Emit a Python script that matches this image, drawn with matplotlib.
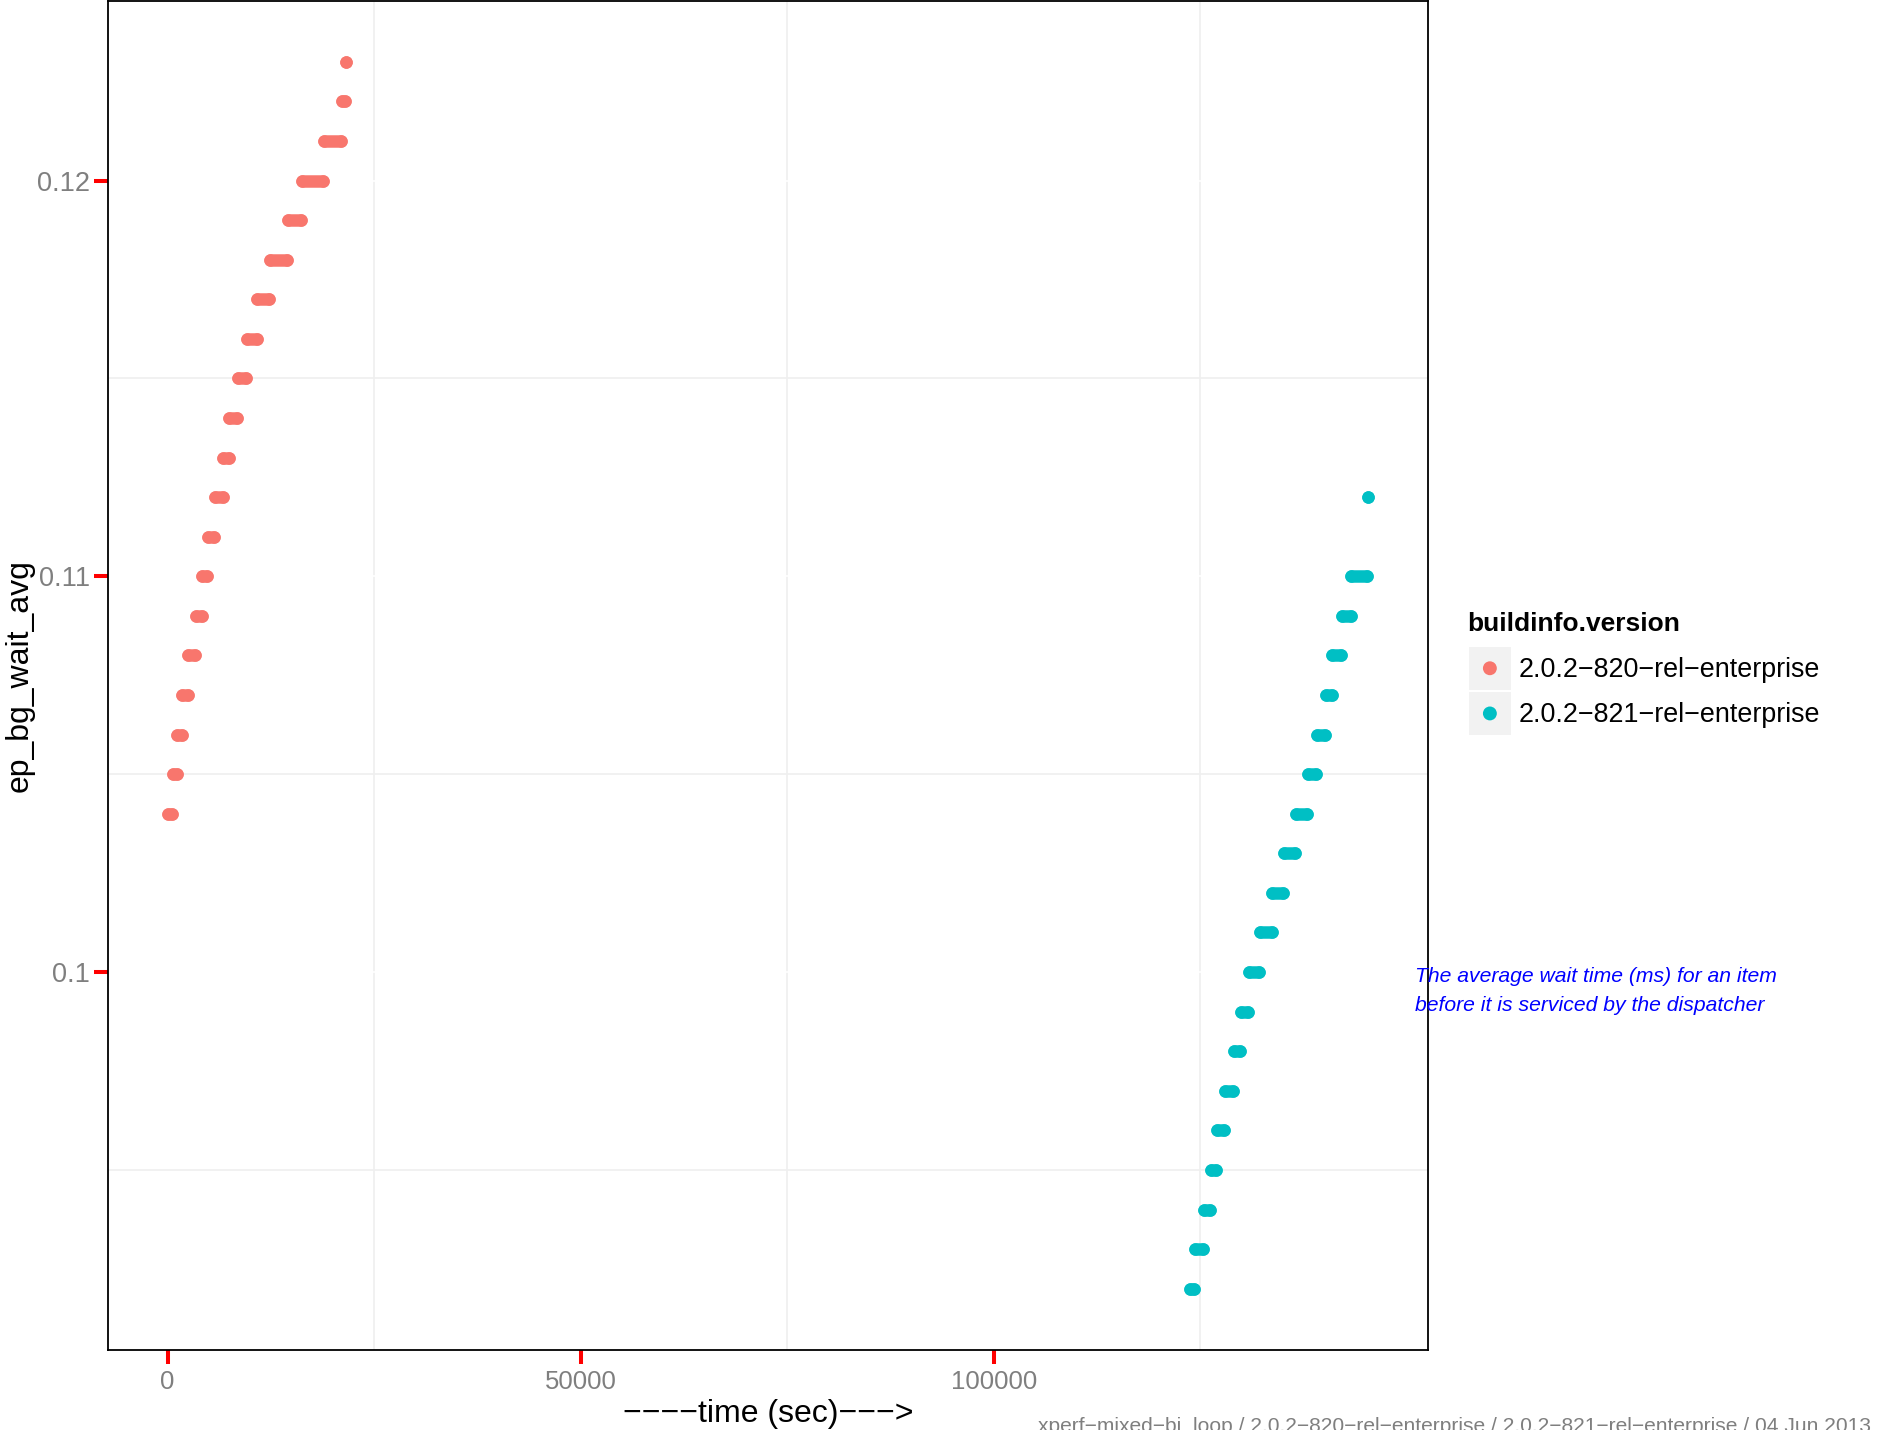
import matplotlib
matplotlib.use("Agg")
import matplotlib.pyplot as plt
from matplotlib.patches import Rectangle, Circle
from matplotlib.legend_handler import HandlerTuple, HandlerPatch

plt.rcParams['font.family'] = ['Liberation Sans', 'DejaVu Sans']

# data: each wait level is held over a stretch of time (start, end in sec)
levels_820 = [0.104, 0.105, 0.106, 0.107, 0.108, 0.109, 0.110, 0.111, 0.112, 0.113,
              0.114, 0.115, 0.116, 0.117, 0.118, 0.119, 0.120, 0.121, 0.122, 0.123]
start_820 = [40, 600, 1170, 1780, 2500, 3420, 4200, 4870, 5680, 6740,
             7460, 8500, 9590, 10850, 12370, 14550, 16320, 18900, 21080, 21610]
end_820 = [520, 1090, 1690, 2420, 3300, 4110, 4750, 5560, 6650, 7380,
           8380, 9470, 10760, 12250, 14430, 16170, 18780, 20920, 21490, 21610]

levels_821 = [0.092, 0.093, 0.094, 0.095, 0.096, 0.097, 0.098, 0.099, 0.100, 0.101,
              0.102, 0.103, 0.104, 0.105, 0.106, 0.107, 0.108, 0.109, 0.110, 0.112]
start_821 = [123700, 124340, 125390, 126280, 127000, 127930, 129020, 129900, 130840, 132200,
             133700, 135100, 136520, 137970, 139060, 140230, 140990, 142160, 143290, 145290]
end_821 = [124270, 125270, 126200, 126930, 127810, 128900, 129830, 130710, 132130, 133620,
           135030, 136400, 137850, 138970, 140110, 140910, 142040, 143200, 145190, 145290]

versions = ['2.0.2\u2212820\u2212rel\u2212enterprise', '2.0.2\u2212821\u2212rel\u2212enterprise']
colors = ['#F8766D', '#00BFC4']
series = [(levels_820, start_820, end_820), (levels_821, start_821, end_821)]

x_ticks = [0, 50000, 100000]
x_minor = [25000, 75000, 125000]
y_ticks = [0.10, 0.11, 0.12]
y_ticklabels = ['0.1', '0.11', '0.12']
y_minor = [0.095, 0.105, 0.115]

W, H = 1881, 1430
fig = plt.figure(figsize=(W / 100, H / 100), dpi=100)
ax = fig.add_axes([108 / W, 1 - 1350 / H, 1320 / W, 1349.5 / H])

ms = 9.0
for (lv, st, en), c in zip(series, colors):
    ax.hlines(lv, st, en, colors=c, linewidth=ms, capstyle='round', zorder=3)
    ax.scatter(st, lv, s=ms ** 2, color=c, linewidths=0, zorder=3)
    ax.scatter(en, lv, s=ms ** 2, color=c, linewidths=0, zorder=3)

# ggplot-style 5% expansion
all_x = start_820 + end_820 + start_821 + end_821
all_y = levels_820 + levels_821
xr = max(all_x) - min(all_x)
yr = max(all_y) - min(all_y)
ax.set_xlim(min(all_x) - 0.05 * xr, max(all_x) + 0.05 * xr)
ax.set_ylim(min(all_y) - 0.05 * yr, max(all_y) + 0.05 * yr)

ax.set_xticks(x_ticks)
ax.set_xticklabels([str(t) for t in x_ticks])
ax.set_yticks(y_ticks)
ax.set_yticklabels(y_ticklabels)
ax.set_xticks(x_minor, minor=True)
ax.set_yticks(y_minor, minor=True)
ax.tick_params(which='major', length=10, width=2.9, color='red',
               labelcolor='#7F7F7F', labelsize=18.5)
ax.tick_params(axis='y', which='major', labelsize=19.5, pad=2.9)
ax.tick_params(axis='x', which='major', pad=4.3)
ax.tick_params(which='minor', length=0)
ax.grid(which='minor', color='#EFEFEF', linewidth=1.2)
ax.grid(which='major', color='white', linewidth=1.2)
ax.set_axisbelow(True)
for sp in ax.spines.values():
    sp.set_linewidth(1.3)
    sp.set_color('black')

ax.set_xlabel('\u2212\u2212\u2212\u2212time (sec)\u2212\u2212\u2212>', fontsize=23, labelpad=3.9)
ax.set_ylabel('ep_bg_wait_avg', fontsize=23, labelpad=2)

# annotation
ax.text(151000, 0.09952,
        'The average wait time (ms) for an item\nbefore it is serviced by the dispatcher',
        color='blue', style='italic', fontsize=15.2, va='center', ha='left',
        linespacing=1.65, clip_on=False)


# legend: title as its own text, keys are grey boxes with a centred dot
def make_dot(legend, orig_handle, xdescent, ydescent, width, height, fontsize):
    return Circle((width / 2 - xdescent, height / 2 - ydescent), radius=5.0)


fig.text(1467 / W, 1 - 624 / H, 'buildinfo.version', fontsize=19, fontweight='bold',
         ha='left', va='center')
handles = [(Rectangle((0, 0), 1, 1, facecolor='#F2F2F2', edgecolor='none'),
            Circle((0, 0), 1, facecolor=c, edgecolor='none'))
           for c in colors]
leg = fig.legend(handles, versions,
                 handler_map={tuple: HandlerTuple(ndivide=1, pad=0),
                              Circle: HandlerPatch(patch_func=make_dot)},
                 loc='upper left', bbox_to_anchor=(1469 / W, 1 - 647 / H),
                 frameon=False, fontsize=19.4, borderpad=0, borderaxespad=0,
                 handlelength=1.55, handleheight=2.05, labelspacing=0.1,
                 handletextpad=0.3)

# caption at the bottom (cut off like the original)
fig.text(1038 / W, -0.0012,
         'xperf\u2212mixed\u2212bi_loop / 2.0.2\u2212820\u2212rel\u2212enterprise / '
         '2.0.2\u2212821\u2212rel\u2212enterprise / 04 Jun 2013',
         fontsize=15.1, color='#7F7F7F', ha='left', va='baseline')

fig.savefig('out.png', dpi=100)
